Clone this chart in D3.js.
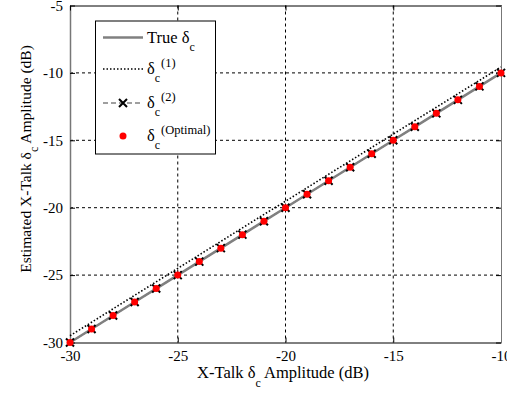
<!DOCTYPE html>
<html>
<head>
<meta charset="utf-8">
<script src="https://cdn.jsdelivr.net/npm/d3@7"></script>
<style>
  html, body { margin: 0; padding: 0; background: #fff; }
  svg { display: block; }
</style>
</head>
<body>
<svg id="chart" width="507" height="394"></svg>
<script>
// X-talk amplitude sweep (dB)
const xTalk = [-30, -29, -28, -27, -26, -25, -24, -23, -22, -21, -20, -19, -18, -17, -16, -15, -14, -13, -12, -11, -10];
// True crosstalk amplitude
const trueDelta = [-30, -29, -28, -27, -26, -25, -24, -23, -22, -21, -20, -19, -18, -17, -16, -15, -14, -13, -12, -11, -10];
// First-order estimate (slightly biased upward)
const delta1 = [-29.5, -28.5, -27.5, -26.5, -25.5, -24.5, -23.5, -22.5, -21.5, -20.5, -19.52, -18.52, -17.52, -16.53, -15.53, -14.54, -13.54, -12.55, -11.55, -10.56, -9.56];
// Second-order estimate
const delta2 = [-30, -29, -28, -27, -26, -25, -24, -23, -22, -21, -20, -19, -18, -17, -16, -15, -14, -13, -12, -11, -10];
// Optimal estimate
const deltaOpt = [-30, -29, -28, -27, -26, -25, -24, -23, -22, -21, -20, -19, -18, -17, -16, -15, -14, -13, -12, -11, -10];

const xTicks = [-30, -25, -20, -15, -10];
const yTicks = [-30, -25, -20, -15, -10, -5];

const FONT = '"Liberation Serif", "Times New Roman", serif';
const svg = d3.select("#chart").attr("font-family", FONT);
const m = { left: 70, right: 501, top: 5.5, bottom: 342.5 };

const x = d3.scaleLinear().domain([-30, -10]).range([m.left, m.right]);
const y = d3.scaleLinear().domain([-30, -5]).range([m.bottom, m.top]);

// dashed grid
const grid = svg.append("g");
grid.selectAll("line.gx").data(xTicks.slice(1, -1)).join("line")
  .attr("x1", d => x(d)).attr("x2", d => x(d))
  .attr("y1", m.top).attr("y2", m.bottom)
  .attr("stroke", "#000").attr("stroke-width", 1).attr("stroke-dasharray", "3,3");
grid.selectAll("line.gy").data(yTicks.slice(1, -1)).join("line")
  .attr("x1", m.left).attr("x2", m.right)
  .attr("y1", d => y(d)).attr("y2", d => y(d))
  .attr("stroke", "#000").attr("stroke-width", 1).attr("stroke-dasharray", "3,3");

// axes with inward ticks
const fmt = d => d3.format("d")(d).replace("\u2212", "-");
const axB = svg.append("g").attr("transform", `translate(0,${m.bottom})`)
  .call(d3.axisBottom(x).tickValues(xTicks).tickSizeInner(-5).tickSizeOuter(0).tickPadding(8).tickFormat(fmt));
const axL = svg.append("g").attr("transform", `translate(${m.left},0)`)
  .call(d3.axisLeft(y).tickValues(yTicks).tickSizeInner(-5).tickSizeOuter(0).tickPadding(7).tickFormat(fmt));
const axT = svg.append("g").attr("transform", `translate(0,${m.top})`)
  .call(d3.axisTop(x).tickValues(xTicks).tickSizeInner(-5).tickSizeOuter(0).tickFormat(""));
const axR = svg.append("g").attr("transform", `translate(${m.right},0)`)
  .call(d3.axisRight(y).tickValues(yTicks).tickSizeInner(-5).tickSizeOuter(0).tickFormat(""));

[axB, axL, axT, axR].forEach(a => {
  a.attr("font-family", FONT).attr("font-size", 15);
  a.selectAll("text").attr("fill", "#000");
  a.selectAll(".tick line").attr("stroke", "#000");
});
axB.select(".domain").attr("stroke", "#000");
axT.select(".domain").attr("stroke", "#000");
axL.select(".domain").attr("stroke", "#777").attr("stroke-width", 1.5);
axR.select(".domain").attr("stroke", "#777");

const pts = arr => xTalk.map((v, i) => [v, arr[i]]);
const line = d3.line().x(d => x(d[0])).y(d => y(d[1]));

const plot = svg.append("g");
// true value
plot.append("path").attr("d", line(pts(trueDelta)))
  .attr("fill", "none").attr("stroke", "#808080").attr("stroke-width", 2.5);
// first-order estimate
plot.append("path").attr("d", line(pts(delta1)))
  .attr("fill", "none").attr("stroke", "#000").attr("stroke-width", 1.6).attr("stroke-dasharray", "1.5,2");
// second-order estimate
plot.append("path").attr("d", line(pts(delta2)))
  .attr("fill", "none").attr("stroke", "#808080").attr("stroke-width", 1.5).attr("stroke-dasharray", "5,3");

const xMark = (g, cx, cy, s) => {
  g.append("path")
    .attr("d", `M${cx - s},${cy - s}L${cx + s},${cy + s}M${cx - s},${cy + s}L${cx + s},${cy - s}`)
    .attr("stroke", "#000").attr("stroke-width", 2).attr("fill", "none");
};
pts(delta2).forEach(d => xMark(plot, x(d[0]), y(d[1]), 4));
plot.selectAll("circle.opt").data(pts(deltaOpt)).join("circle")
  .attr("cx", d => x(d[0])).attr("cy", d => y(d[1])).attr("r", 3.5).attr("fill", "#f00");

// legend
const lg = svg.append("g");
lg.append("rect").attr("x", 95.5).attr("y", 21).attr("width", 120).attr("height", 133)
  .attr("fill", "#fff").attr("stroke", "#000").attr("stroke-width", 1);
const lx1 = 103, lx2 = 143, tx = 147;
const rows = [37.5, 69, 103, 136];

lg.append("line").attr("x1", lx1).attr("x2", lx2).attr("y1", rows[0]).attr("y2", rows[0])
  .attr("stroke", "#808080").attr("stroke-width", 2.5);
lg.append("line").attr("x1", lx1).attr("x2", lx2).attr("y1", rows[1]).attr("y2", rows[1])
  .attr("stroke", "#000").attr("stroke-width", 1.6).attr("stroke-dasharray", "1.5,2");
lg.append("line").attr("x1", lx1).attr("x2", lx2).attr("y1", rows[2]).attr("y2", rows[2])
  .attr("stroke", "#808080").attr("stroke-width", 1.5).attr("stroke-dasharray", "5,3");
xMark(lg, (lx1 + lx2) / 2, rows[2], 4);
lg.append("circle").attr("cx", (lx1 + lx2) / 2).attr("cy", rows[3]).attr("r", 3.5).attr("fill", "#f00");

const legendText = (yy, pre, sup) => {
  const t = lg.append("text").attr("x", tx).attr("y", yy + 5).attr("font-size", 16.5).attr("fill", "#000");
  t.append("tspan").text(pre + "\u03b4");
  t.append("tspan").attr("font-size", 12).attr("dy", 8).text("c");
  if (sup) t.append("tspan").attr("font-size", 12.5).attr("dy", -15).attr("dx", 1).text(sup);
};
legendText(rows[0], "True ", null);
legendText(rows[1], "", "(1)");
legendText(rows[2], "", "(2)");
legendText(rows[3], "", "(Optimal)");

// axis titles
const xt = svg.append("text").attr("x", 283).attr("y", 378).attr("text-anchor", "middle")
  .attr("font-size", 16.5).attr("fill", "#000");
xt.append("tspan").text("X-Talk \u03b4");
xt.append("tspan").attr("font-size", 12).attr("dy", 9).text("c");
xt.append("tspan").attr("dy", -9).text(" Amplitude (dB)");

const yt = svg.append("text").attr("transform", "translate(31,159) rotate(-90)").attr("text-anchor", "middle")
  .attr("font-size", 15.5).attr("fill", "#000");
yt.append("tspan").text("Estimated X-Talk \u03b4");
yt.append("tspan").attr("font-size", 12).attr("dy", 7).text("c");
yt.append("tspan").attr("dy", -7).text(" Amplitude (dB)");
</script>
</body>
</html>
